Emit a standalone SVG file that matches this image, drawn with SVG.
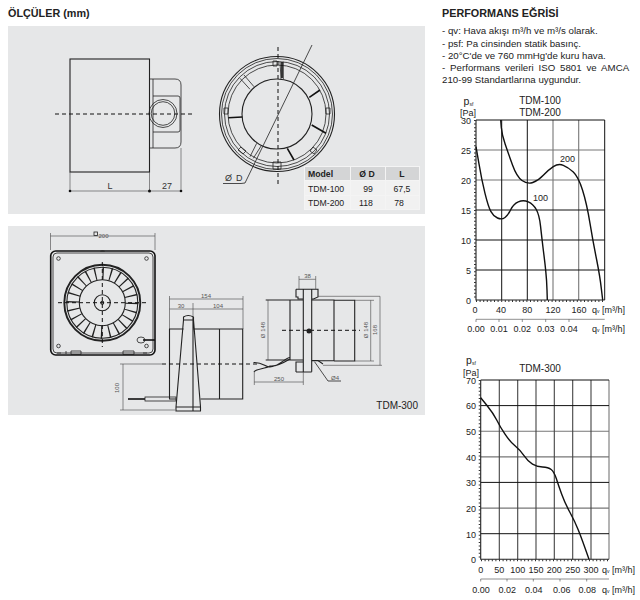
<svg xmlns="http://www.w3.org/2000/svg" width="640" height="600" viewBox="0 0 640 600">
<defs><style>
text{font-family:"Liberation Sans",Arial,sans-serif;fill:#222}
.panel{fill:#e6e7e8}
.l{fill:none;stroke:#222;stroke-width:.8}
.m{fill:none;stroke:#222;stroke-width:1.1}
.h{fill:none;stroke:#111;stroke-width:1.6}
.d{fill:none;stroke:#111;stroke-width:1;stroke-dasharray:4 3}
.dm{fill:none;stroke:#444;stroke-width:.6}
.gk{stroke:#111;stroke-width:1;fill:none}
.gg{stroke:#777;stroke-width:1.1;fill:none}
.gd{stroke:#444;stroke-width:1.1;fill:none}
.c{fill:none;stroke:#111;stroke-width:1.4;stroke-linejoin:round}
.t5{font-size:6px;fill:#555}
.lab{font-size:9px;fill:#333}
.ti{font-size:10px}
.mid{text-anchor:middle}.end{text-anchor:end}
.tick{stroke:#333;stroke-width:2;stroke-dasharray:1 2.6;fill:none}
.cell{fill:#f1f1f1}.hd{fill:#d4d5d6}
</style></defs>
<rect width="640" height="600" fill="#fff"/>
<text x="8" y="16.500" font-size="10.800" font-weight="700" fill="#111">ÖLÇÜLER (mm)</text>
<text x="442" y="16.500" font-size="10.800" font-weight="700" fill="#111">PERFORMANS EĞRİSİ</text>
<g id="notes" font-size="9.700">
<text x="442" y="34">- qv: Hava akışı m³/h ve m³/s olarak.</text>
<text x="442" y="46.500">- psf: Pa cinsinden statik basınç.</text>
<text x="442" y="59">- 20°C'de ve 760 mmHg'de kuru hava.</text>
<text x="442" y="71" word-spacing="2.200">- Performans verileri ISO 5801 ve AMCA</text>
<text x="442" y="83">210-99 Standartlarına uygundur.</text>
</g>
<rect class="panel" x="8" y="26" width="417" height="188"/>
<rect class="panel" x="8" y="226" width="417" height="189"/>
<g id="side-view">
<rect class="m" x="70" y="59" width="79.500" height="113"/>
<path class="l" d="M149.500 79H175Q181 79 181 85V142Q181 148 175 148H149.500M153 79V148M153 96H178Q180 96 180 98V130Q180 132 178 132H153"/>
<circle class="l" cx="163" cy="113.500" r="14"/><circle class="l" cx="163" cy="113.500" r="11.800"/>
<path class="d" d="M55 114H193"/>
<path class="dm" d="M70 172V191M149.500 172V191M181 148V191M70 191H181"/>
<g fill="#111"><circle cx="70" cy="191" r="1.300"/><circle cx="149.500" cy="191" r="1.500"/><circle cx="181" cy="191" r="1.300"/></g>
<text class="lab mid" x="110" y="189">L</text><text class="lab mid" x="167" y="189">27</text>
</g>
<g id="front-ring">
<circle class="m" cx="277" cy="114" r="57.500"/><circle class="l" cx="277" cy="114" r="55.500"/><circle class="l" cx="277" cy="114" r="52.500"/>
<circle class="l" cx="277" cy="114" r="49"/><circle class="m" cx="277" cy="114" r="35"/>
<path class="l" d="M280 61.700L281 79.300M283.300 61.700V79.300M240 78.300L250 89.300M244 75L254 86.700M256.700 143.300L250 156.700M261.700 145L253.300 158.300"/>
<path class="h" d="M228.300 117.800L242.300 117M287.300 148.300L294 160M311.700 125L326 133.300M309.300 97.300L320 90M282 62V78"/>
<path class="l" d="M273 61H277V66H273ZM273 162H281V169H273ZM224 108H228V114H224ZM326 108H330V114H326ZM241 147L246 151L243 154L238 150ZM313 147L317 150L314 154L310 151Z"/>
<path class="d" d="M278 47V185"/>
<path class="l" d="M312 45L245 183L241 183.500H223"/>
<text class="lab" x="225" y="181" letter-spacing=".8">Ø D</text>
</g>
<g id="table">
<rect x="304" y="166" width="116" height="44" fill="#f4f4f4"/>
<rect class="hd" x="305" y="167" width="45" height="13"/><rect class="hd" x="351" y="167" width="34" height="13"/><rect class="hd" x="386" y="167" width="33" height="13"/>
<rect class="cell" x="305" y="181" width="45" height="14"/><rect class="cell" x="351" y="181" width="34" height="14"/><rect class="cell" x="386" y="181" width="33" height="14"/>
<rect class="cell" x="305" y="196" width="45" height="13"/><rect class="cell" x="351" y="196" width="34" height="13"/><rect class="cell" x="386" y="196" width="33" height="13"/>
<g font-size="8.700"><text x="308" y="177" font-weight="700">Model</text><text class="mid" x="367" y="177" font-weight="700">Ø D</text><text class="mid" x="402" y="177" font-weight="700">L</text>
<text x="308" y="192">TDM-100</text><text class="mid" x="368" y="192">99</text><text class="mid" x="402" y="192">67,5</text>
<text x="308" y="205.500">TDM-200</text><text class="mid" x="366" y="205.500">118</text><text class="mid" x="399" y="205.500">78</text></g>
</g>
<g id="tdm300-front">
<path class="dm" d="M50.500 233V250M155 233V250M50.500 236H155"/>
<rect class="l" x="94" y="232" width="3.500" height="3.500" fill="#e6e7e8"/>
<text class="t5" x="98.500" y="238">200</text>
<rect class="h" x="50.700" y="251" width="104.300" height="104" rx="5"/>
<rect class="l" x="53" y="253" width="100" height="100" rx="4"/>
<path d="M100 252a2.500 2 0 0 1 5 0Z" fill="#333"/>
<g class="l"><circle cx="58.500" cy="258.500" r="1.800"/><circle cx="146.500" cy="258.500" r="1.800"/><circle cx="58.500" cy="346" r="1.800"/><circle cx="146.500" cy="346" r="1.800"/></g>
<circle cx="102.300" cy="302.700" r="29.500" fill="none" stroke="#222" stroke-width="13" stroke-dasharray="1.300 6.420"/>
<circle cx="102.300" cy="302.700" r="38" fill="none" stroke="#222" stroke-width="1.900"/>
<circle cx="102.300" cy="302.700" r="35.500" class="m"/>
<circle cx="102.300" cy="302.700" r="23" class="m" fill="#e6e7e8"/>
<circle cx="102.300" cy="302.700" r="8" class="m"/><circle cx="102.300" cy="302.700" r="1.400" class="m"/>
<path class="d" d="M58 302.700H148M102.300 262V347"/>
<path class="l" d="M57 353H61M66 351V354M71 351H81V354.500H71ZM123 351H134V354.500H123ZM143 353H147"/>
<ellipse class="l" cx="141" cy="340" rx="4" ry="3"/><path class="h" d="M143 340H155"/>
</g>
<g id="tdm300-side">
<path class="dm" d="M169.500 296V329M243 296V329M193 303V316M169.500 299H243M169.500 309H243"/>
<text class="t5 mid" x="206" y="298">154</text><text class="t5 mid" x="181" y="308">30</text><text class="t5 mid" x="218" y="308">104</text>
<path class="m" d="M176 399H169.500V329H183.500M193.500 329H242.700V399H219.500V329M200.500 399H219.500"/>
<path class="m" d="M183.500 320V317Q188 314 193.500 317V320L200.500 407V411H176V407L183.500 320ZM176 407H200.500M193 317V411M183.500 320H193.500"/>
<path class="h" d="M128 399H145"/><rect class="l" x="145" y="397" width="31" height="4"/>
<path class="d" d="M162 364H258" stroke-dasharray="5 4"/>
<path class="dm" d="M120 364H162M120 410H175M123 364V410"/>
<text class="t5 mid" transform="translate(119 388) rotate(-90)">100</text>
</g>
<g id="tdm300-right">
<path class="m" d="M303.300 289.300V371.700M311.700 289.300V371.700M296 289.300H318V297L313.500 299H311.700M296 289.300V297H298V299H303.300M296 372V362H303.300M311.700 360.500H318L323 364M296 372H311.700"/>
<path class="m" d="M303 300H265.700M303 360H265.700M290 300V360M311.700 300H334V360.700H311.700M334 300.300H354.700V361H334"/>
<path class="dm" d="M268 300V360M354.700 300.300H374M354.700 361H374M370.700 300.300V361M318 296.300H380M323 365.300H382M380 296.300V365.300M299 279.300H315.700M299 276V289M315.700 276V289M254.300 382H303.300M254.300 372V385M303.300 372V385"/>
<path class="d" d="M282 330.300H360"/><circle cx="309" cy="331" r="2.500" fill="#222"/>
<path class="m" d="M253.500 362.500C263 362 265 367 270 367C278 367 285 358 290 357.500M254 372C255 369 265 369 270 366C277 367 285 362 290 359"/>
<path class="l" d="M314.500 361.700L328 381H341"/>
<text class="t5" x="331" y="379.500">Ø4</text><text class="t5 mid" x="307.500" y="278">38</text><text class="t5 mid" x="279" y="381">250</text>
<text class="t5 mid" transform="translate(265 330) rotate(-90)">Ø 148</text><text class="t5 mid" transform="translate(368 330) rotate(-90)">Ø 148</text><text class="t5 mid" transform="translate(377 330) rotate(-90)">168</text>
<text x="418" y="408.500" font-size="10" class="end" fill="#222">TDM-300</text>
</g>
<g id="chart-tdm100-200">
<path class="gg" d="M553 120V300M578.700 120V300M476 150H604.700M476 180H604.700"/>
<path class="gk" d="M501.700 120V300M527.300 120V300M476 120H604.700V300M476 210H604.700M476 240H604.700M476 270H604.700"/>
<path class="m" d="M476 120V300H604.700" stroke-width="1.300"/>
<path class="tick" d="M475 120V300M476 301H604"/>
<path class="c" d="M476 146.700L478.900 163.300Q481.700 180 485 193.300Q488.300 206.700 490.800 211.300Q493.300 216 497.500 218Q501.700 220 505 217.500Q508.300 215 510.800 209.500Q513.300 204 518.300 201.800Q523.300 199.700 528.300 201.800Q533.300 204 536.300 209.500Q539.300 215 540.500 225.800Q541.700 236.700 543.300 250Q545 263.300 545.800 271.600Q546.700 280 547 290L547.300 300"/>
<path class="c" d="M500.700 120L501.300 127.500Q502 135 505.200 144.200Q508.300 153.300 512.500 165Q516.700 176.700 522 180.500Q527.300 184.300 532.800 182.500Q538.300 180.700 543.300 175.300Q548.300 170 553.300 166.700Q558.300 163.300 563.300 165.300Q568.300 167.300 573.300 172Q578.300 176.700 582.500 190Q586.700 203.300 590 223.300Q593.300 243.300 596.700 260Q600 276.700 601.300 288.300L602.700 300"/>
<g class="lab">
<text class="mid ti" x="540" y="104">TDM-100</text><text class="mid ti" x="540" y="115.500">TDM-200</text>
<text x="463.500" y="105" font-size="10.500">p</text><text x="469.500" y="106" font-size="5">sf</text><text x="460" y="116">[Pa]</text>
<g class="end"><text x="471" y="123.500">30</text><text x="471" y="154">25</text><text x="471" y="184">20</text><text x="471" y="214">15</text><text x="471" y="244">10</text><text x="471" y="274">5</text><text x="471" y="303.500">0</text></g>
<text x="560" y="162">200</text><text x="533" y="201">100</text>
<g class="mid"><text x="475" y="312.500">0</text><text x="501" y="312.500">40</text><text x="527.300" y="312.500">80</text><text x="553" y="312.500">120</text><text x="579" y="312.500">160</text>
<text x="476" y="332">0.00</text><text x="499" y="332">0.01</text><text x="522.300" y="332">0.02</text><text x="545.700" y="332">0.03</text><text x="569" y="332">0.04</text></g>
<text x="592" y="312.500">q<tspan font-size="5">v</tspan> [m³/h]</text><text x="592" y="332">q<tspan font-size="5">v</tspan> [m³/h]</text>
</g>
<path class="dm" d="M476 319.300H604.700M476 319.300V322M499 319.300V322M522.300 319.300V322M545.700 319.300V322M569 319.300V322" stroke-width=".9"/>
</g>
<g id="chart-tdm300">
<path class="gg" d="M480.700 508.100H609M480.700 456.900H609M480.700 431.300H609M609 380V559.300"/>
<path class="gd" d="M499.300 380V559.300M517.700 380V559.300M536 380V559.300M554.300 380V559.300M572.700 380V559.300M591 380V559.300"/>
<path class="gk" d="M480.700 405.600H609M480.700 482.400H609M480.700 533.700H609M480.700 380H609"/>
<path class="m" d="M480.700 380V559.300H609" stroke-width="1.300"/>
<path class="tick" d="M479.700 380V559M481 560.300H609"/>
<path class="c" d="M480.700 397.700L487 405.500Q493.300 413.300 496.700 420Q500 426.700 505 434.200Q510 441.700 515 445.800Q520 450 524.200 455.800Q528.300 461.700 532.500 464.200Q536.700 466.700 542.500 467Q548.300 467.300 551.200 469.500Q554 471.700 556.200 478.300Q558.300 485 561.700 494.200Q565 503.300 570 512.500Q575 521.700 578.300 530Q581.700 538.300 589 559.300"/>
<g class="lab">
<text class="mid ti" x="540" y="372">TDM-300</text>
<text x="466" y="364" font-size="10.500">p</text><text x="472" y="365" font-size="5">sf</text><text x="463" y="375.500">[Pa]</text>
<g class="end"><text x="476" y="384">70</text><text x="476" y="409">60</text><text x="476" y="435">50</text><text x="476" y="460.500">40</text><text x="476" y="486">30</text><text x="476" y="512">20</text><text x="476" y="537.500">10</text><text x="476" y="563">0</text></g>
<g class="mid"><text x="480.700" y="572.500">0</text><text x="499.300" y="572.500">50</text><text x="517.700" y="572.500">100</text><text x="536" y="572.500">150</text><text x="554.300" y="572.500">200</text><text x="572.700" y="572.500">250</text><text x="591" y="572.500">300</text>
<text x="481" y="592.500">0.00</text><text x="507.300" y="592.500">0.02</text><text x="533.700" y="592.500">0.04</text><text x="561.700" y="592.500">0.06</text><text x="587.300" y="592.500">0.08</text></g>
<text x="602" y="572.500">q<tspan font-size="5">v</tspan> [m³/h]</text><text x="602" y="592.500">q<tspan font-size="5">v</tspan> [m³/h]</text>
</g>
<path class="dm" d="M480.700 579H609M480.700 579V581.500M507 579V581.500M533.300 579V581.500M560 579V581.500M586.700 579V581.500" stroke-width=".9"/>
</g>
</svg>
